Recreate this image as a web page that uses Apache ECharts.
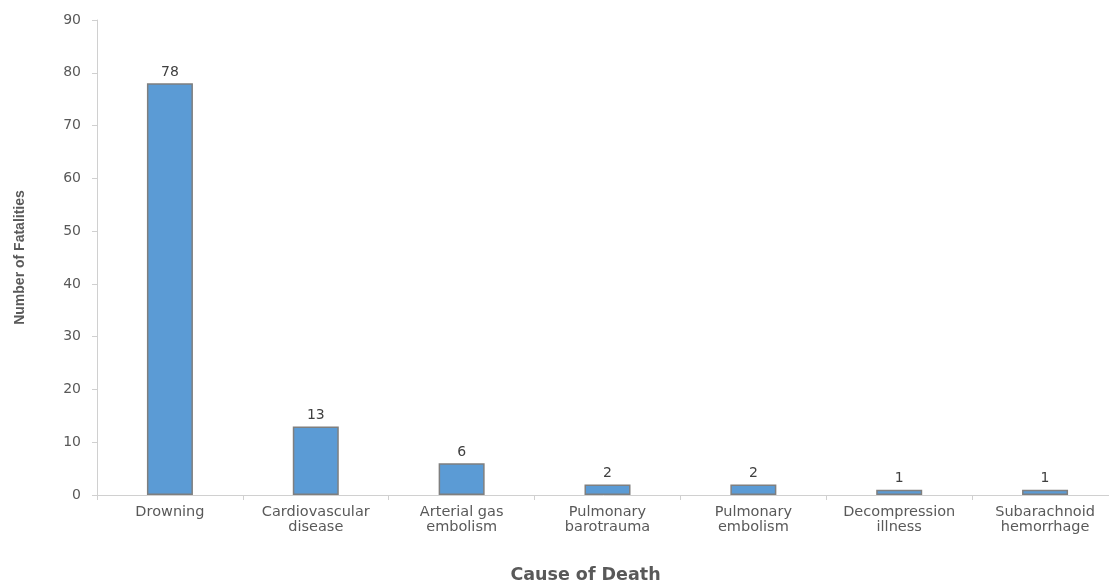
<!DOCTYPE html>
<html><head><meta charset="utf-8">
<script src="https://cdn.jsdelivr.net/npm/echarts@6/dist/echarts.min.js"></script>
<style>html,body{margin:0;padding:0;background:#fff}#c{width:1109px;height:584px}</style>
</head><body><div id="c"></div>
<script>
const categories = ["Drowning", "Cardiovascular\ndisease", "Arterial gas\nembolism", "Pulmonary\nbarotrauma", "Pulmonary\nembolism", "Decompression\nillness", "Subarachnoid\nhemorrhage"];
const fatalities = [78, 13, 6, 2, 2, 1, 1];
const xTitle = "Cause of Death";
const yTitle = "Number of Fatalities";

const chart = echarts.init(document.getElementById('c'), null, {renderer: 'canvas'});
chart.setOption({
  animation: false,
  textStyle: {fontFamily: 'DejaVu Sans, sans-serif'},
  grid: {left: 97, top: 20, width: 1021, height: 475, containLabel: false, outerBoundsMode: 'none'},
  xAxis: {
    type: 'category', data: categories,
    name: xTitle, nameLocation: 'middle', nameGap: 71,
    nameTextStyle: {fontSize: 17.5, fontWeight: 'bold', color: '#595959', fontFamily: 'DejaVu Sans', padding: [0, 44, 0, 0]},
    axisLine: {lineStyle: {color: '#d0d0d0'}},
    axisTick: {show: true, alignWithLabel: false, length: 5, lineStyle: {color: '#d0d0d0'}},
    axisLabel: {fontSize: 14.5, color: '#595959', lineHeight: 15, margin: 10, interval: 0}
  },
  yAxis: {
    type: 'value', min: 0, max: 90, interval: 10,
    name: yTitle, nameLocation: 'middle', nameGap: 70, nameRotate: 90,
    nameTextStyle: {fontSize: 14, fontWeight: 'bold', color: '#595959', fontFamily: 'Liberation Sans, Arial, sans-serif'},
    axisLine: {show: true, lineStyle: {color: '#d0d0d0'}},
    axisTick: {show: true, length: 5, lineStyle: {color: '#d0d0d0'}},
    splitLine: {show: false},
    axisLabel: {fontSize: 14, color: '#595959', margin: 16}
  },
  series: [{
    type: 'bar', data: fatalities, barWidth: 46,
    itemStyle: {color: '#5b9bd5', borderColor: '#7f7f7f', borderWidth: 1.5},
    label: {show: true, position: 'top', fontSize: 14, color: '#404040', distance: 4}
  }]
});
</script></body></html>
